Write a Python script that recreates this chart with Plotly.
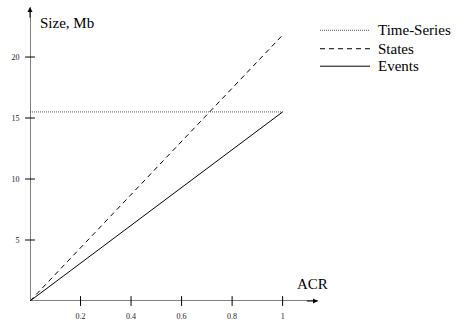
import plotly.graph_objects as go

# ---- data ----
acr = [0, 1]
time_series = [15.5, 15.5]
states = [0, 21.8]
events = [0, 15.5]
x_ticks = [0.2, 0.4, 0.6, 0.8, 1]
x_tick_labels = ["0.2", "0.4", "0.6", "0.8", "1"]
y_ticks = [5, 10, 15, 20]
y_tick_labels = ["5", "10", "15", "20"]
series_names = ["Time-Series", "States", "Events"]

W, H = 456, 328
L, R, T, B = 30, 138, 7, 18
XMAX, YMAX = 1.14, 24.1
FONT = "Liberation Serif"

def px(x):
    return (x - L) / (W - L - R)

def py(y):
    return 1 - (y - T) / (H - T - B)

fig = go.Figure()
styles = [dict(color="#555", width=1, dash="1px,1px"),
          dict(color="black", width=1, dash="5px,4px"),
          dict(color="black", width=1)]
for name, ys, st in zip(series_names, [time_series, states, events], styles):
    fig.add_trace(go.Scatter(x=acr, y=ys, mode="lines", name=name, line=st,
                             showlegend=False, hoverinfo="skip"))

# crossing tick marks
fig.add_trace(go.Scatter(x=x_ticks, y=[0]*len(x_ticks), mode="markers",
                         marker=dict(symbol="line-ns", size=7, line=dict(width=1, color="black")),
                         showlegend=False, hoverinfo="skip", cliponaxis=False))
fig.add_trace(go.Scatter(x=[0]*len(y_ticks), y=y_ticks, mode="markers",
                         marker=dict(symbol="line-ew", size=7, line=dict(width=1, color="black")),
                         showlegend=False, hoverinfo="skip", cliponaxis=False))

# axis arrows
fig.add_annotation(x=XMAX, y=0, ax=XMAX - 0.05, ay=0, xref="x", yref="y", axref="x", ayref="y",
                   showarrow=True, arrowhead=2, arrowsize=1, arrowwidth=1, arrowcolor="black", text="")
fig.add_annotation(x=0, y=YMAX, ax=0, ay=YMAX - 1, xref="x", yref="y", axref="x", ayref="y",
                   showarrow=True, arrowhead=2, arrowsize=1, arrowwidth=1, arrowcolor="black", text="")

# axis titles
fig.add_annotation(x=px(38), y=py(24), xref="paper", yref="paper", text="Size, Mb", showarrow=False,
                   xanchor="left", yanchor="middle", font=dict(family=FONT, size=15, color="black"))
fig.add_annotation(x=px(295), y=py(292), xref="paper", yref="paper", text="ACR", showarrow=False,
                   xanchor="left", yanchor="middle", font=dict(family=FONT, size=15, color="black"))

# custom legend
leg_y = [31, 50, 68]
for name, st, yy in zip(series_names, styles, leg_y):
    fig.add_shape(type="line", xref="paper", yref="paper", x0=px(320), x1=px(370), y0=py(yy), y1=py(yy),
                  line=st)
    fig.add_annotation(x=px(376), y=py(yy), xref="paper", yref="paper", text=name, showarrow=False,
                       xanchor="left", yanchor="middle", font=dict(family=FONT, size=15, color="black"))

axis_common = dict(showgrid=False, zeroline=False, showline=False,
                   ticks="outside", tickcolor="rgba(0,0,0,0)",
                   tickfont=dict(family=FONT, size=8, color="#222"))
fig.update_xaxes(range=[0, XMAX], tickvals=x_ticks, ticktext=x_tick_labels, ticklen=7, **axis_common)
fig.update_yaxes(range=[0, YMAX], tickvals=y_ticks, ticktext=y_tick_labels, ticklen=8, **axis_common)

# axis lines
fig.add_shape(type="line", xref="x", yref="y", x0=0, x1=XMAX, y0=0, y1=0, line=dict(color="black", width=1))
fig.add_shape(type="line", xref="x", yref="y", x0=0, x1=0, y0=0, y1=YMAX, line=dict(color="black", width=1))

fig.update_layout(width=W, height=H, margin=dict(l=L, r=R, t=T, b=B, pad=0),
                  plot_bgcolor="white", paper_bgcolor="white", showlegend=False,
                  font=dict(family=FONT))
fig.write_html("out.html", config={"displayModeBar": False, "staticPlot": True})

# remove default page margin so the figure sits at the window origin
with open("out.html", encoding="utf-8") as f:
    html = f.read()
html = html.replace("<head>", "<head><style>html,body{margin:0;padding:0;overflow:hidden;}</style>", 1)
with open("out.html", "w", encoding="utf-8") as f:
    f.write(html)
